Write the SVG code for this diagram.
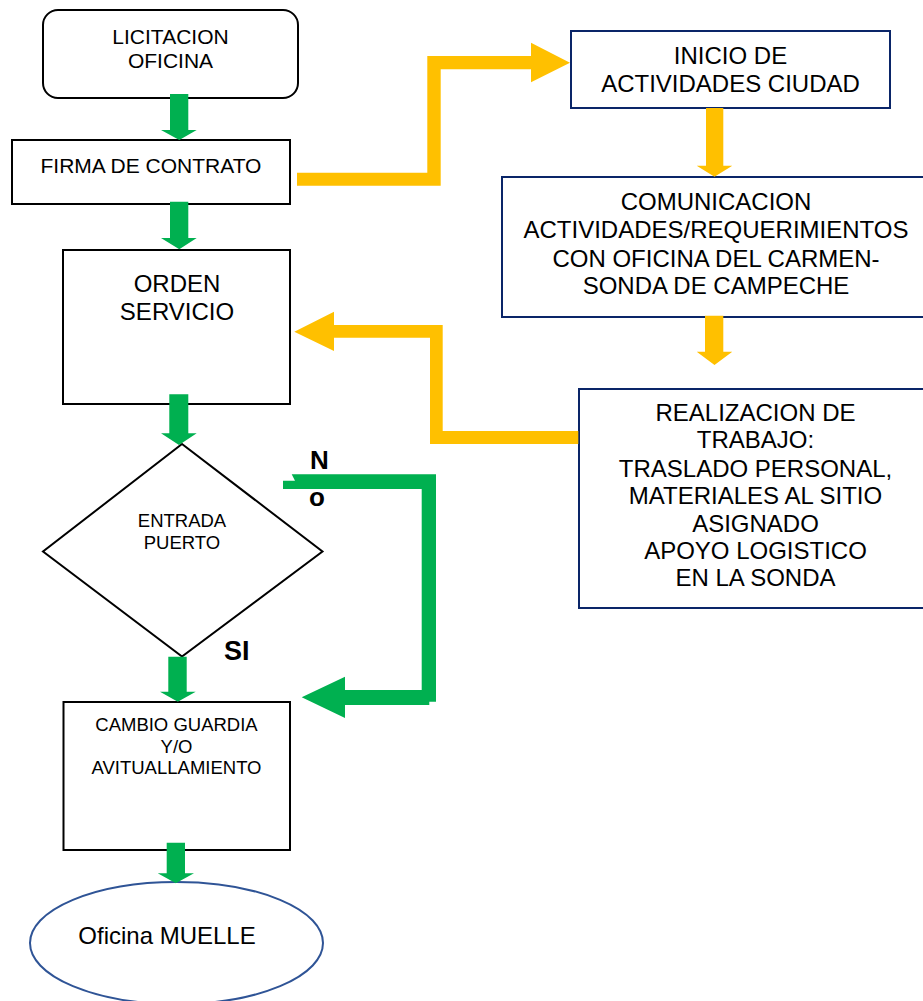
<svg xmlns="http://www.w3.org/2000/svg" width="923" height="1001" viewBox="0 0 923 1001">
<style>
  text { font-family: "Liberation Sans", Arial, sans-serif; fill: #000; text-anchor: middle; }
  .box { fill: #fff; stroke: #000; stroke-width: 2; }
  .nbox { fill: #fff; stroke: #0a2568; stroke-width: 2; }
  .green { fill: #00b050; }
  .orange { fill: #ffc000; }
  .t21 { font-size: 21px; }
  .t24 { font-size: 24px; }
  .t18 { font-size: 18.5px; }
  .lbl { font-size: 26px; font-weight: bold; text-anchor: start; }
</style>
<rect width="923" height="1001" fill="#fff"/>

<g id="licitacion">
  <rect class="box" x="43" y="10" width="255" height="88" rx="15"/>
  <text class="t21" x="170.5" y="44">LICITACION</text>
  <text class="t21" x="170.5" y="68">OFICINA</text>
</g>
<g id="firma">
  <rect class="box" x="12" y="140" width="278" height="64"/>
  <text class="t21" x="151" y="172.5">FIRMA DE CONTRATO</text>
</g>
<g id="orden">
  <rect class="box" x="63" y="250" width="227" height="154"/>
  <text class="t24" x="177" y="292">ORDEN</text>
  <text class="t24" x="177" y="320">SERVICIO</text>
</g>
<g id="entrada">
  <polygon fill="#fff" stroke="#000" stroke-width="2" points="182,444 322.5,551.5 182,656.5 43,551.5"/>
  <text class="t18" x="182" y="526.5">ENTRADA</text>
  <text class="t18" x="182" y="549">PUERTO</text>
</g>
<g id="cambio">
  <rect class="box" x="63.5" y="702" width="226.5" height="148"/>
  <text class="t18" x="176.5" y="730.5">CAMBIO GUARDIA</text>
  <text class="t18" x="176.5" y="752.5">Y/O</text>
  <text class="t18" x="176.5" y="774">AVITUALLAMIENTO</text>
</g>
<g id="muelle">
  <ellipse cx="176.5" cy="943" rx="146.5" ry="61" fill="#fff" stroke="#2f5496" stroke-width="2"/>
  <text class="t24" x="167" y="944">Oficina MUELLE</text>
</g>
<g id="inicio">
  <rect class="nbox" x="571" y="31" width="319" height="77"/>
  <text class="t24" x="730.5" y="64">INICIO DE</text>
  <text class="t24" x="730.5" y="91.5">ACTIVIDADES CIUDAD</text>
</g>
<g id="comunicacion">
  <rect class="nbox" x="502" y="177" width="430" height="140"/>
  <text class="t24" x="716" y="210">COMUNICACION</text>
  <text class="t24" x="716" y="238">ACTIVIDADES/REQUERIMIENTOS</text>
  <text class="t24" x="716" y="266.5">CON OFICINA DEL CARMEN-</text>
  <text class="t24" x="716" y="294">SONDA DE CAMPECHE</text>
</g>
<g id="realizacion">
  <rect class="nbox" x="579" y="389" width="353" height="219"/>
  <text class="t24" x="755.5" y="420.5">REALIZACION DE</text>
  <text class="t24" x="755.5" y="448">TRABAJO:</text>
  <text class="t24" x="755.5" y="476.5">TRASLADO PERSONAL,</text>
  <text class="t24" x="755.5" y="504">MATERIALES AL SITIO</text>
  <text class="t24" x="755.5" y="531.5">ASIGNADO</text>
  <text class="t24" x="755.5" y="558.5">APOYO LOGISTICO</text>
  <text class="t24" x="755.5" y="585.5">EN LA SONDA</text>
</g>

<g id="connectors">
  <polygon class="green" points="170,94 188.3,94 188.3,130 196.7,130 179.3,140 161,130 170,130"/>
  <polygon class="green" points="170,201.7 188.3,201.7 188.3,238 196.7,238 179.3,249.3 161,238 170,238"/>
  <polygon class="green" points="169.3,394.3 188.3,394.3 188.3,433.3 196.7,433.3 179,445 161,433.3 169.3,433.3"/>
  <polygon class="green" points="168.3,656.7 186.7,656.7 186.7,691.7 195.7,691.7 177.8,701.7 160,691.7 168.3,691.7"/>
  <polygon class="green" points="166.7,842.7 185,842.7 185,873.3 194,873.3 175.8,883.3 157.7,873.3 166.7,873.3"/>
  <polygon class="green" points="283,480.7 295,480.7 291.7,474.3 436,474.3 436,701.7 429.3,701.7 429.3,705 345,705 345,718 301.7,697.3 345,676.7 345,690 421.7,690 421.7,489 283,489"/>
  <polygon class="orange" points="297,172.7 427.3,172.7 427.3,56 531,56 531,42.7 570,62.7 531,82.3 531,69.3 440.7,69.3 440.7,185.7 297,185.7"/>
  <polygon class="orange" points="294.3,331.7 334,311.7 334,325 442.7,325 442.7,431 578.3,431 578.3,444 430,444 430,337.7 334,337.7 334,351"/>
  <polygon class="orange" points="706,108 723.3,108 723.3,165.7 732.3,165.7 714.5,176.7 696.7,165.7 706,165.7"/>
  <polygon class="orange" points="705,315.7 723.3,315.7 723.3,351.7 732.3,351.7 714.5,365 696.7,351.7 705,351.7"/>
  <text class="lbl" x="310" y="469">N</text>
  <text class="lbl" x="309" y="506">o</text>
  <text class="lbl" x="224" y="660" style="font-size:27px">SI</text>
</g>
</svg>
